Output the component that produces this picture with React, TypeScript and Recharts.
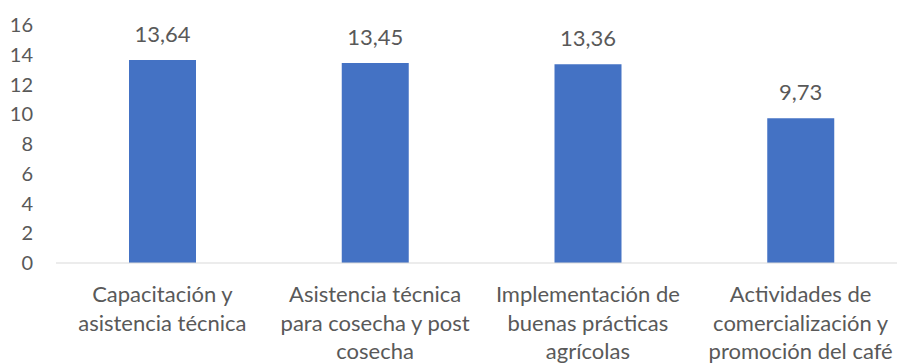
import { BarChart, Bar, XAxis, YAxis, LabelList } from "recharts";

const categoryLines: string[][] = [
  ["Capacitación y", "asistencia técnica"],
  ["Asistencia técnica", "para cosecha y post", "cosecha"],
  ["Implementación de", "buenas prácticas", "agrícolas"],
  ["Actividades de", "comercialización y", "promoción del café"],
];
const categories = categoryLines.map((l) => l.join(" "));
const values = [13.64, 13.45, 13.36, 9.73];
const yTicks = [0, 2, 4, 6, 8, 10, 12, 14, 16];

const data = categories.map((name, i) => ({ name, value: values[i] }));

const FONT = "Lato, 'Open Sans', sans-serif";
const TEXT = "#595959";

function formatComma(v: number) {
  return v.toFixed(2).replace(".", ",");
}

function CategoryTick(props: any) {
  const { x, y, payload } = props;
  const lines = categoryLines[payload.index] ?? [String(payload.value)];
  return (
    <text x={x} y={y} textAnchor="middle" fill={TEXT} fontSize={22} fontFamily={FONT}>
      {lines.map((line, i) => (
        <tspan key={i} x={x} dy={i === 0 ? 31 : 28.5}>
          {line}
        </tspan>
      ))}
    </text>
  );
}

export default function App() {
  return (
    <div style={{ position: "fixed", left: 0, top: 0, width: 897, height: 364, overflow: "hidden", background: "#fff" }}>
      <BarChart
        width={907}
        height={364}
        data={data}
        margin={{ top: 25, right: 0, left: 0, bottom: 0 }}
      >
        <XAxis
          dataKey="name"
          height={101}
          tick={<CategoryTick />}
          tickLine={false}
          axisLine={{ stroke: "#D9D9D9", strokeWidth: 1 }}
          interval={0}
        />
        <YAxis
          domain={[0, 16]}
          ticks={yTicks}
          interval={0}
          width={56}
          axisLine={false}
          tickLine={false}
          tickMargin={17}
          tick={{ fill: TEXT, fontSize: 20, fontFamily: FONT }}
        />
        <Bar dataKey="value" fill="#4472C4" barSize={67} isAnimationActive={false}>
          <LabelList
            dataKey="value"
            position="top"
            offset={18}
            formatter={(v: any) => formatComma(Number(v))}
            style={{ fill: TEXT, fontSize: 22, fontFamily: FONT }}
          />
        </Bar>
      </BarChart>
    </div>
  );
}
